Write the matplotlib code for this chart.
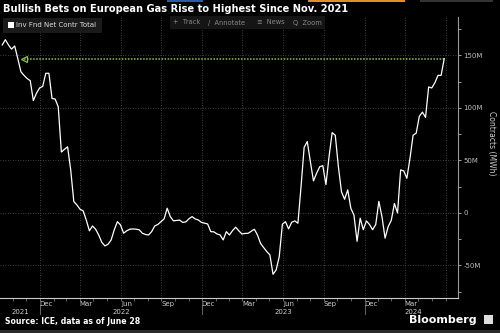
import matplotlib
matplotlib.use('Agg')
import matplotlib.pyplot as plt
import matplotlib.transforms as mtransforms
from matplotlib.patches import Rectangle
import pandas as pd

# weekly Inv Fnd Net Contr Total, millions (MWh)
values = [160, 165, 160, 156, 159, 147, 134.5, 131, 128, 126,
          107, 114, 119, 120.5, 133, 133, 109, 108.5, 101, 58,
          60.6, 63, 41, 10.8, 7.6, 3.5, 2, -6.7,
          -17, -12.4, -15.5, -21, -28, -31.4, -29.8, -25.7, -16, -8.3,
          -11.4, -19.3, -17, -15.5, -15.2, -15.5, -16, -19.3, -20.5, -21,
          -17.8, -12.4, -11,
          -8.3, -5.7, 4.5, -3.5, -7.5, -7.2, -6.8, -9, -8.5, -5.5,
          -3.5, -5.7, -6.7, -9, -9.8, -10.5, -17.8, -18, -20, -21,
          -25.7, -17.8, -21, -16.8, -13.6, -17,
          -20, -19.5, -19.4, -17.5, -15.5, -21, -29, -33, -36.8, -40,
          -58.4, -54.3, -41.6, -10.8, -8.3, -15.2, -8.9, -7.6, -9.8, 25,
          62.5, 68, 48.8, 30.5, 37.8,
          44, 45, 27, 53.6, 76.5, 74, 44, 20, 13, 22,
          4.4, -2, -27, -5, -16, -7.6, -11, -16, -11, 11,
          -3.5, -24, -13, -7, 9, 0, 41, 40, 33, 52,
          74, 76, 92, 96, 91, 120, 119, 124, 131, 131, 147]
dates = pd.date_range(end='2024-06-28', periods=len(values), freq='7D')

y_ticks = [-50, 0, 50, 100, 150]
y_labels = ['-50M', '0', '50M', '100M', '150M']
quarter_starts = pd.date_range('2022-01-01', '2024-07-01', freq='QS')
month_names = ['Dec', 'Mar', 'Jun', 'Sep', 'Dec', 'Mar', 'Jun', 'Sep', 'Dec', 'Mar', 'Jun']
month_mids = pd.date_range('2021-12-15', '2024-06-15', freq='3MS') + pd.Timedelta(days=14)
years = ['2021', '2022', '2023', '2024']
year_pos = pd.to_datetime(['2021-11-17', '2022-07-02', '2023-07-02', '2024-04-20'])
year_seps = pd.to_datetime(['2022-01-01', '2023-01-01', '2024-01-01'])

W, H = 500, 333
GREEN = '#8dc63f'
GRID = '#555555'


def fx(x):
    return x / W


def fy(y):
    return 1 - y / H


fig = plt.figure(figsize=(5, 3.33), dpi=100, facecolor='black')
ax = fig.add_axes([0, 35 / H, 458 / W, 281 / H])
ax.set_facecolor('black')

ax.plot(dates, values, color='white', lw=0.9, zorder=3)

# dotted arrow back to the last time positions were this high
tip = pd.Timestamp('2021-11-27')
ax.plot([tip, dates[-1]], [values[-1], values[-1]], ls=(0, (1, 1)),
        color=GREEN, lw=1.1, zorder=2)
ax.plot([tip], [values[-1]], marker='<', ms=5, mfc='none', mec=GREEN,
        mew=0.9, zorder=2)

ax.set_xlim(pd.Timestamp('2021-10-03'), pd.Timestamp('2024-07-29'))
ax.set_ylim(-81, 186.6)

for s in ['left', 'top']:
    ax.spines[s].set_visible(False)
ax.spines['right'].set_color('#999999')
ax.spines['right'].set_linewidth(0.8)
ax.spines['bottom'].set_color('#cccccc')
ax.spines['bottom'].set_linewidth(0.8)

ax.yaxis.tick_right()
ax.set_yticks(y_ticks)
ax.set_yticklabels(y_labels)
ax.set_yticks([-75, -25, 25, 75, 125, 175], minor=True)
ax.tick_params(axis='y', which='both', colors='#bbbbbb', labelsize=5,
               length=2.5, width=0.6, pad=1.5)

ax.set_xticks(quarter_starts)
ax.set_xticklabels([])
ax.set_xticks(pd.date_range('2021-11-01', '2024-07-01', freq='MS'), minor=True)
ax.tick_params(axis='x', which='both', colors='#888888', length=2, width=0.5)

ax.grid(True, which='major', color=GRID, ls=(0, (1, 2)), lw=0.6)

trans = mtransforms.blended_transform_factory(ax.transData, ax.transAxes)
for d, name in zip(month_mids, month_names):
    ax.text(d, -0.01, name, transform=trans, ha='center', va='top',
            color='#cccccc', fontsize=5)
for d, name in zip(year_pos, years):
    ax.text(d, -0.038, name, transform=trans, ha='center', va='top',
            color='#cccccc', fontsize=5)
for d in year_seps:
    ax.plot([d, d], [-0.025, -0.058], transform=trans, color='#777777',
            lw=0.6, clip_on=False)

fig.text(0.982, fy(143), 'Contracts (MWh)', rotation=270, ha='center',
         va='center', color='#cccccc', fontsize=5.5)

# header
fig.text(fx(3), fy(9), 'Bullish Bets on European Gas Rise to Highest Since Nov. 2021',
         color='white', fontsize=7.1, weight='bold', va='center', ha='left')
fig.patches.append(Rectangle((fx(3), fy(33)), 99 / W, 15 / H, transform=fig.transFigure,
                             facecolor='#1a1a1a', edgecolor='none'))
fig.patches.append(Rectangle((fx(8), fy(28)), 6 / W, 6 / H, transform=fig.transFigure,
                             facecolor='white', edgecolor='none'))
fig.text(fx(16.5), fy(25.2), 'Inv Fnd Net Contr Total', color='#dddddd',
         fontsize=5, va='center', ha='left')

fig.patches.append(Rectangle((fx(170), fy(29)), 155 / W, 13 / H, transform=fig.transFigure,
                             facecolor='#151515', edgecolor='none'))
for x, t in [(173, '+  Track'), (208, '/  Annotate'), (257, '\u2261  News'), (293, 'Q  Zoom')]:
    fig.text(fx(x), fy(22.5), t, color='#888888', fontsize=4.8, va='center', ha='left')

# top toolbar remnants
for x0, w, c in [(167, 36, '#2a5caa'), (308, 97, '#e08f25'), (420, 73, '#333333')]:
    fig.patches.append(Rectangle((fx(x0), fy(2)), w / W, 2 / H, transform=fig.transFigure,
                                 facecolor=c, edgecolor='none'))

# footer
fig.text(fx(5), fy(321.5), 'Source: ICE, data as of June 28', color='white',
         fontsize=5.6, weight='bold', va='center', ha='left')
fig.text(fx(409), fy(320), 'Bloomberg', color='white', fontsize=8,
         weight='bold', va='center', ha='left')
fig.patches.append(Rectangle((fx(484), fy(324)), 9 / W, 9 / H, transform=fig.transFigure,
                             facecolor='#dddddd', edgecolor='none'))
fig.patches.append(Rectangle((0, 0), 1, 3 / H, transform=fig.transFigure,
                             facecolor='#2a2a2a', edgecolor='none'))

fig.savefig('out.png', dpi=100, facecolor='black')
